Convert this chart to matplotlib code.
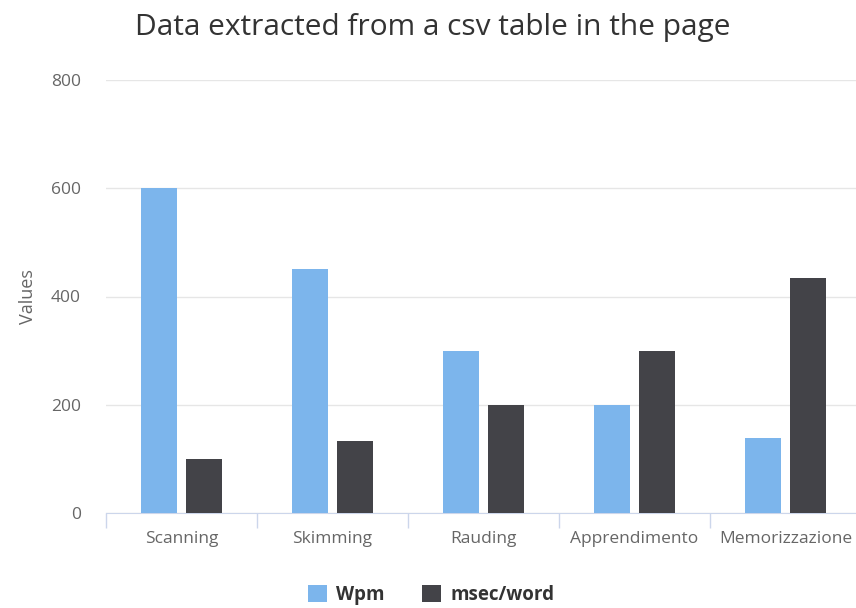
import numpy as np
import matplotlib.pyplot as plt

categories = ["Scanning", "Skimming", "Rauding", "Apprendimento", "Memorizzazione"]
wpm = [600, 450, 300, 200, 138]
msec_word = [100, 133, 200, 300, 435]
yticks = [0, 200, 400, 600, 800]

plt.rcParams['font.family'] = ['Open Sans', 'DejaVu Sans']

fig = plt.figure(figsize=(8.56, 6.08), dpi=100)
ax = fig.add_axes([106 / 856, 1 - 513 / 608, 755 / 856, 433 / 608])

x = np.arange(len(categories))
w = 0.238
off = 0.149
ax.bar(x - off, wpm, w, color="#7cb5ec", label="Wpm", zorder=3)
ax.bar(x + off, msec_word, w, color="#434348", label="msec/word", zorder=3)

ax.set_xlim(-0.5, len(categories) - 0.5)
ax.set_ylim(0, 800)
ax.set_yticks(yticks)
ax.set_yticklabels([str(v) for v in yticks], color="#666666", fontsize=12.5)
ax.grid(axis="y", color="#e6e6e6", linewidth=1, zorder=0)
ax.tick_params(axis="y", length=0, pad=18)

ax.set_xticks(x)
ax.set_xticklabels(categories, color="#666666", fontsize=12.5)
ax.set_xticks(np.arange(len(categories) + 1) - 0.5, minor=True)
ax.tick_params(axis="x", which="major", length=0, pad=13)
ax.tick_params(axis="x", which="minor", length=11, color="#ccd6eb", width=1)

for s in ["top", "right", "left"]:
    ax.spines[s].set_visible(False)
ax.spines["bottom"].set_color("#ccd6eb")

ax.set_ylabel("Values", color="#666666", fontsize=13, labelpad=10)

fig.text(0.505, 0.955, "Data extracted from a csv table in the page",
         ha="center", va="center", fontsize=21.5, color="#333333")

leg = fig.legend(loc="center", bbox_to_anchor=(0.504, 0.021), ncol=2, frameon=False,
                 prop={"weight": "bold", "size": 13.5}, handlelength=1.0, handleheight=1.0,
                 columnspacing=2.0, handletextpad=0.5)
for t in leg.get_texts():
    t.set_color("#333333")

fig.savefig("out.png", dpi=100)
